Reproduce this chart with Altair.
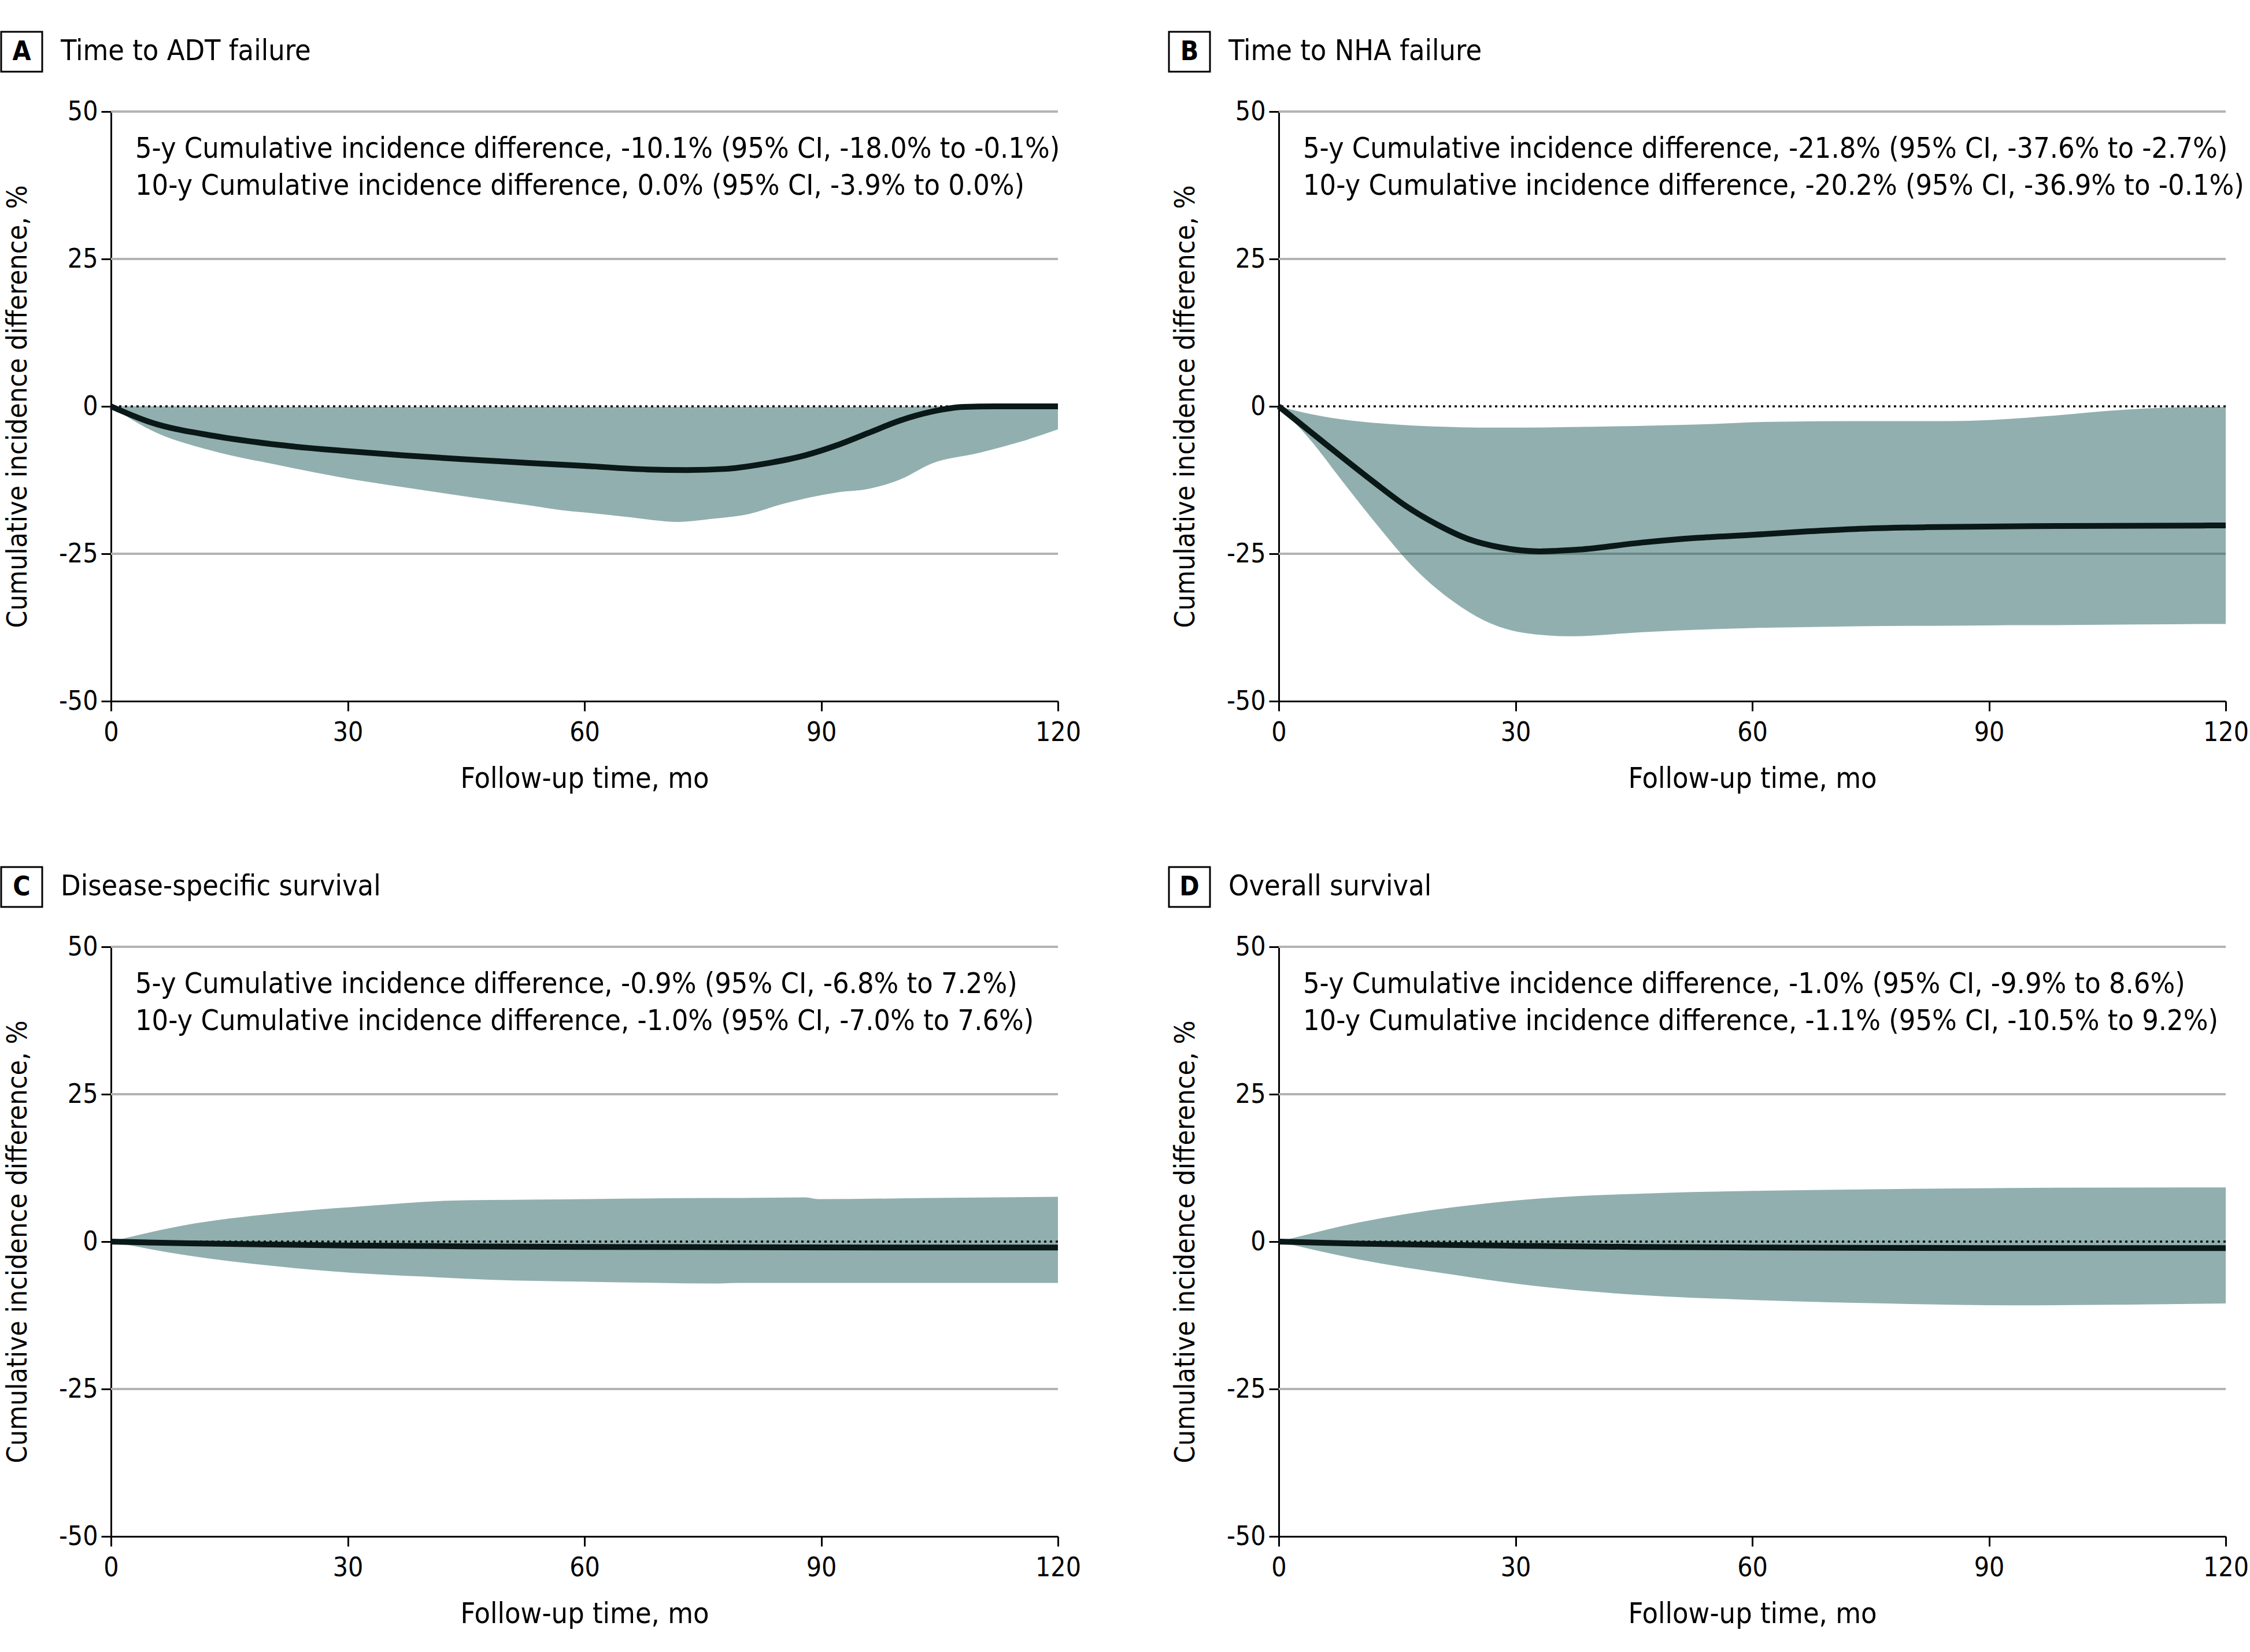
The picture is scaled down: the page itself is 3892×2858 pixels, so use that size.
import altair as alt
import pandas as pd

# ---------------- data (months of follow-up, % difference) ----------------
# A: time to ADT failure
a_line_month = [0, 5, 13, 21, 29, 37, 45, 53, 60, 68, 73, 78, 83, 88, 92, 96, 100, 104, 108, 112, 120]
a_line_diff = [0, -2.7, -5.0, -6.5, -7.5, -8.3, -9.0, -9.6, -10.1, -10.7, -10.8, -10.6, -9.7, -8.3, -6.6, -4.5, -2.4, -0.9, -0.1, 0.0, 0.0]
a_band_month = [0, 5, 13, 21, 29, 37, 45, 53, 57, 60, 65, 72, 76, 81, 85, 92, 96, 100, 104, 110, 116, 120]
a_band_lower = [0, -4.0, -7.6, -9.9, -12.0, -13.7, -15.3, -16.8, -17.6, -18.0, -18.7, -19.6, -19.1, -18.2, -16.6, -14.6, -14.0, -12.4, -9.7, -7.9, -5.7, -3.9]
a_band_upper = [0, 0, -0.1, -0.1, -0.1, -0.1, -0.1, -0.1, -0.1, -0.1, -0.1, -0.1, -0.1, -0.1, -0.1, -0.1, -0.1, -0.1, 0, 0, 0, 0]

# B: time to NHA failure
b_line_month = [0, 4, 8, 12, 16, 20, 24, 28, 33, 38, 46, 53, 60, 67, 73, 82, 99, 120]
b_line_diff = [0, -4.3, -8.6, -12.8, -16.8, -20.0, -22.5, -23.9, -24.6, -24.3, -23.1, -22.3, -21.8, -21.2, -20.8, -20.5, -20.3, -20.2]
b_band_month = [0, 4, 8, 13, 17, 22, 26, 31, 37, 46, 55, 60, 64, 73, 85, 95, 98, 107, 113, 120]
b_band_lower = [0, -5.7, -12.6, -21.0, -27.2, -33.0, -36.3, -38.4, -39.0, -38.3, -37.8, -37.6, -37.5, -37.3, -37.2, -37.1, -37.1, -37.0, -36.95, -36.9]
b_band_upper = [0, -1.3, -2.2, -2.9, -3.25, -3.5, -3.6, -3.6, -3.5, -3.3, -3.0, -2.7, -2.6, -2.5, -2.5, -1.9, -1.6, -0.6, -0.2, -0.1]

# C: disease-specific survival
c_line_month = [0, 10, 20, 30, 45, 60, 80, 100, 120]
c_line_diff = [0, -0.3, -0.5, -0.65, -0.8, -0.9, -0.95, -1.0, -1.0]
c_band_month = [0, 9, 21, 33, 42, 45, 57, 60, 77, 80, 88, 89.6, 104, 120]
c_band_lower = [0, -2.2, -4.2, -5.5, -6.1, -6.3, -6.75, -6.8, -7.1, -7.0, -7.0, -7.0, -7.0, -7.0]
c_band_upper = [0, 2.7, 4.8, 6.1, 6.9, 7.0, 7.15, 7.2, 7.4, 7.4, 7.5, 7.2, 7.4, 7.6]

# D: overall survival
d_line_month = [0, 10, 20, 30, 45, 60, 90, 120]
d_line_diff = [0, -0.35, -0.55, -0.7, -0.9, -1.0, -1.1, -1.1]
d_band_month = [0, 10, 22, 33, 45, 60, 77, 93, 120]
d_band_lower = [0, -3.0, -5.6, -7.6, -9.0, -9.9, -10.5, -10.8, -10.5]
d_band_upper = [0, 3.2, 5.8, 7.3, 8.1, 8.6, 8.9, 9.1, 9.2]

panel_letters = ["A", "B", "C", "D"]
panel_titles = ["Time to ADT failure", "Time to NHA failure",
                "Disease-specific survival", "Overall survival"]
notes_5y = [
    "5-y Cumulative incidence difference, -10.1% (95% CI, -18.0% to -0.1%)",
    "5-y Cumulative incidence difference, -21.8% (95% CI, -37.6% to -2.7%)",
    "5-y Cumulative incidence difference, -0.9% (95% CI, -6.8% to 7.2%)",
    "5-y Cumulative incidence difference, -1.0% (95% CI, -9.9% to 8.6%)",
]
notes_10y = [
    "10-y Cumulative incidence difference, 0.0% (95% CI, -3.9% to 0.0%)",
    "10-y Cumulative incidence difference, -20.2% (95% CI, -36.9% to -0.1%)",
    "10-y Cumulative incidence difference, -1.0% (95% CI, -7.0% to 7.6%)",
    "10-y Cumulative incidence difference, -1.1% (95% CI, -10.5% to 9.2%)",
]
x_ticks = [0, 30, 60, 90, 120]
y_ticks = [-50, -25, 0, 25, 50]
grid_levels = [50, 25, -25]

# ---------------- styling ----------------
FONT = "DejaVu Sans Condensed, DejaVu Sans, sans-serif"
PLOT_W, PLOT_H = 1638, 1020
BAND = "#235f5f"
LINE = "#0a1818"
GRID = "#b3b3b3"

x_scale = alt.Scale(domain=[0, 120], nice=False, zero=False)
y_scale = alt.Scale(domain=[-50, 50], nice=False, zero=False)

x_axis = alt.Axis(
    values=x_ticks, title="Follow-up time, mo", grid=False, labelFlush=False,
    domainColor="black", domainWidth=3, tickColor="black", tickWidth=3, tickSize=17,
    labelFont=FONT, labelFontSize=46, labelColor="black", labelPadding=15,
    titleFont=FONT, titleFontSize=50, titleFontWeight="normal", titleColor="black",
    titleX=PLOT_W / 2, titleY=134, titleBaseline="middle", titleAlign="center",
)
y_axis = alt.Axis(
    values=y_ticks, title="Cumulative incidence difference, %", grid=False, labelFlush=False,
    labelExpr="'' + datum.value",
    domainColor="black", domainWidth=3, tickColor="black", tickWidth=3, tickSize=17,
    labelFont=FONT, labelFontSize=46, labelColor="black", labelPadding=6,
    titleFont=FONT, titleFontSize=48, titleFontWeight="normal", titleColor="black",
    titleX=-161, titleY=PLOT_H / 2, titleAngle=270, titleBaseline="middle", titleAlign="center",
)


def xenc(field):
    return alt.X(f"{field}:Q", scale=x_scale, axis=x_axis)


def yenc(field):
    return alt.Y(f"{field}:Q", scale=y_scale, axis=y_axis)


def panel(i, line_m, line_d, band_m, lo, hi):
    band_df = pd.DataFrame({"month": band_m, "lower": lo, "upper": hi})
    line_df = pd.DataFrame({"month": line_m, "diff": line_d})
    grid_df = pd.DataFrame({"level": grid_levels})
    zero_df = pd.DataFrame({"level": [0]})
    one = pd.DataFrame({"letter": [panel_letters[i]], "title": [panel_titles[i]],
                        "n5": [notes_5y[i]], "n10": [notes_10y[i]]})

    grid = alt.Chart(grid_df).mark_rule(color=GRID, strokeWidth=4).encode(y=yenc("level"))
    band = alt.Chart(band_df).mark_area(color=BAND, opacity=0.5, interpolate="monotone").encode(
        x=xenc("month"), y=yenc("lower"), y2="upper")
    zero = alt.Chart(zero_df).mark_rule(color="black", strokeWidth=3.5, strokeDash=[4, 6]).encode(
        y=yenc("level"))
    line = alt.Chart(line_df).mark_line(color=LINE, strokeWidth=10, interpolate="monotone").encode(
        x=xenc("month"), y=yenc("diff"))

    note_style = dict(font=FONT, fontSize=50, align="left", baseline="middle", color="black")
    n5 = alt.Chart(one).mark_text(**note_style).encode(
        x=alt.value(42), y=alt.value(65), text="n5:N")
    n10 = alt.Chart(one).mark_text(**note_style).encode(
        x=alt.value(42), y=alt.value(129), text="n10:N")

    box = alt.Chart(one).mark_rect(fill="white", stroke="black", strokeWidth=3).encode(
        x=alt.value(-190), x2=alt.value(-119), y=alt.value(-138), y2=alt.value(-69))
    letter = alt.Chart(one).mark_text(font=FONT, fontSize=46, fontWeight="bold", align="center",
                                      baseline="middle", color="black").encode(
        x=alt.value(-154.5), y=alt.value(-103), text="letter:N")
    title = alt.Chart(one).mark_text(font=FONT, fontSize=50, align="left", baseline="middle",
                                     color="black").encode(
        x=alt.value(-87), y=alt.value(-104), text="title:N")

    return alt.layer(grid, band, zero, line, n5, n10, box, letter, title).properties(
        width=PLOT_W, height=PLOT_H)


panels = [
    panel(0, a_line_month, a_line_diff, a_band_month, a_band_lower, a_band_upper),
    panel(1, b_line_month, b_line_diff, b_band_month, b_band_lower, b_band_upper),
    panel(2, c_line_month, c_line_diff, c_band_month, c_band_lower, c_band_upper),
    panel(3, d_line_month, d_line_diff, d_band_month, d_band_lower, d_band_upper),
]

chart = alt.concat(
    *panels, columns=2, spacing={"row": 425, "column": 382}, bounds="flush"
).properties(
    padding={"left": 0, "top": 53, "right": 0, "bottom": 24},
    background="white",
).configure_view(stroke=None)

chart.save("out.html", embed_options={"renderer": "svg", "actions": False})
